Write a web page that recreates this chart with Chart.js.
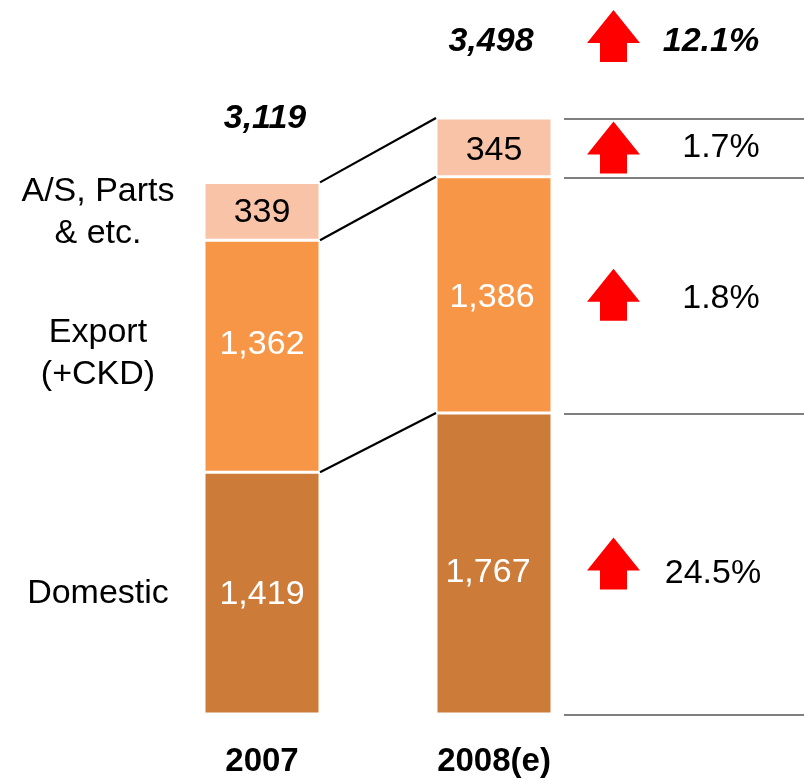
<!DOCTYPE html>
<html>
<head>
<meta charset="utf-8">
<script src="https://cdn.jsdelivr.net/npm/chart.js@4/dist/chart.umd.min.js"></script>
<style>
    html, body { margin: 0; padding: 0; background: #fff; }
    #wrap { width: 804px; height: 782px; }
</style>
</head>
<body>
<div id="wrap"><canvas id="grafico" width="804" height="782"></canvas></div>
<script>
const anos = ['2007', '2008(e)'];
const domestico = [1419, 1767];
const exportacao = [1362, 1386];
const pecas = [339, 345];
const totais = [3119, 3498];
const crescimento = ['12.1%', '1.7%', '1.8%', '24.5%']; // total, A/S, export, domestic
const nomesSegmentos = [['Domestic'], ['Export', '(+CKD)'], ['A/S, Parts', '& etc.']];

const FONTE = '"Liberation Sans", Arial, sans-serif';
const cores = ['#CC7B38', '#F79646', '#F9C3A7'];
const coresTexto = ['#ffffff', '#ffffff', '#000000'];

// pequenos ajustes de posicao dos rotulos (x, y) por segmento/barra
const ajusteRotulo = [
    [[0, 2], [-6, 9]],
    [[0, -12], [-2, 3]],
    [[0, 1], [0, 3]]
];

const pxPorUnidade = 596 / 3498;
const yMax = 4000;

function numero(v) {
    return v.toLocaleString('en-US');
}

function desenharSeta(ctx, cx, cy) {
    // seta vermelha apontando para cima
    const topo = cy - 26;
    const baseCabeca = cy + 7;
    const fundo = cy + 26;
    ctx.beginPath();
    ctx.moveTo(cx, topo);
    ctx.lineTo(cx + 26.5, baseCabeca);
    ctx.lineTo(cx + 13.5, baseCabeca);
    ctx.lineTo(cx + 13.5, fundo);
    ctx.lineTo(cx - 13.5, fundo);
    ctx.lineTo(cx - 13.5, baseCabeca);
    ctx.lineTo(cx - 26.5, baseCabeca);
    ctx.closePath();
    ctx.fillStyle = '#FF0000';
    ctx.fill();
}

const anotacoes = {
    id: 'anotacoes',
    afterDatasetsDraw(chart) {
        const ctx = chart.ctx;
        const y = chart.scales.y;
        const metas = [0, 1, 2].map(i => chart.getDatasetMeta(i));

        ctx.save();
        ctx.textAlign = 'center';
        ctx.textBaseline = 'middle';

        // rotulos de valor dentro das barras
        metas.forEach((meta, s) => {
            meta.data.forEach((bar, b) => {
                const valor = chart.data.datasets[s].data[b];
                const [dx, dy] = ajusteRotulo[s][b];
                ctx.font = '34px ' + FONTE;
                ctx.fillStyle = coresTexto[s];
                ctx.fillText(numero(valor), bar.x + dx, (bar.y + bar.base) / 2 + dy);
            });
        });

        // linhas de ligacao entre as barras
        ctx.strokeStyle = '#000';
        ctx.lineWidth = 2.2;
        metas.forEach(meta => {
            const a = meta.data[0], b = meta.data[1];
            ctx.beginPath();
            ctx.moveTo(a.x + a.width / 2, a.y);
            ctx.lineTo(b.x - b.width / 2, b.y);
            ctx.stroke();
        });

        // totais em negrito italico
        const ajusteTotal = [-64, -76];
        ctx.font = 'italic bold 34px ' + FONTE;
        ctx.fillStyle = '#000';
        totais.forEach((t, b) => {
            const bar = metas[2].data[b];
            ctx.fillText(numero(t), bar.x + (b === 0 ? 3 : -3), y.getPixelForValue(t) + ajusteTotal[b]);
        });

        // nomes dos segmentos a esquerda
        ctx.font = '34px ' + FONTE;
        nomesSegmentos.forEach((linhas, s) => {
            const bar = metas[s].data[0];
            const meio = (bar.y + bar.base) / 2;
            const passo = 42;
            linhas.forEach((txt, i) => {
                const yy = meio + (i - (linhas.length - 1) / 2) * passo + (s === 1 ? -3 : 1);
                ctx.fillText(txt, 98, yy);
            });
        });

        // linhas horizontais a direita (limites da barra 2008)
        const limites = [0, domestico[1], domestico[1] + exportacao[1], totais[1]];
        ctx.strokeStyle = '#7F7F7F';
        ctx.lineWidth = 2;
        limites.forEach(v => {
            const yy = Math.round(y.getPixelForValue(v)) + 1;
            ctx.beginPath();
            ctx.moveTo(564, yy);
            ctx.lineTo(804, yy);
            ctx.stroke();
        });

        // setas e percentuais
        const linhasDireita = [
            { y: 36, ty: 42 },
            { y: (metas[2].data[1].y + metas[2].data[1].base) / 2, ty: 148 },
            { y: (metas[1].data[1].y + metas[1].data[1].base) / 2, ty: 299 },
            { y: (metas[0].data[1].y + metas[0].data[1].base) / 2, ty: 574 }
        ];
        linhasDireita.forEach((l, i) => {
            desenharSeta(ctx, 613.5, l.y);
            ctx.fillStyle = '#000';
            if (i === 0) {
                ctx.font = 'italic bold 34px ' + FONTE;
                ctx.fillText(crescimento[i], 711, l.ty);
            } else {
                ctx.font = '34px ' + FONTE;
                ctx.fillText(crescimento[i], i === 3 ? 713 : 721, l.ty);
            }
        });

        ctx.restore();
    }
};

const ctx = document.getElementById('grafico').getContext('2d');
new Chart(ctx, {
    type: 'bar',
    data: {
        labels: anos,
        datasets: [
            { label: 'Domestic', data: domestico, backgroundColor: cores[0] },
            { label: 'Export (+CKD)', data: exportacao, backgroundColor: cores[1] },
            { label: 'A/S, Parts & etc.', data: pecas, backgroundColor: cores[2] }
        ].map(d => Object.assign(d, {
            borderColor: '#ffffff',
            borderWidth: 1.5,
            borderSkipped: false,
            barPercentage: 1,
            categoryPercentage: 0.5
        }))
    },
    options: {
        responsive: false,
        animation: false,
        layout: {
            padding: { left: 146, right: 194, top: 714 - yMax * pxPorUnidade, bottom: 0 }
        },
        plugins: {
            legend: { display: false },
            tooltip: { enabled: false }
        },
        scales: {
            x: {
                stacked: true,
                border: { display: false },
                grid: { display: false, drawTicks: false },
                ticks: {
                    color: '#000',
                    padding: 28,
                    font: { family: FONTE, size: 33, weight: 'bold' }
                },
                afterFit: (s) => { s.height = 68; }
            },
            y: {
                stacked: true,
                display: false,
                min: 0,
                max: yMax
            }
        }
    },
    plugins: [anotacoes]
});
</script>
</body>
</html>
